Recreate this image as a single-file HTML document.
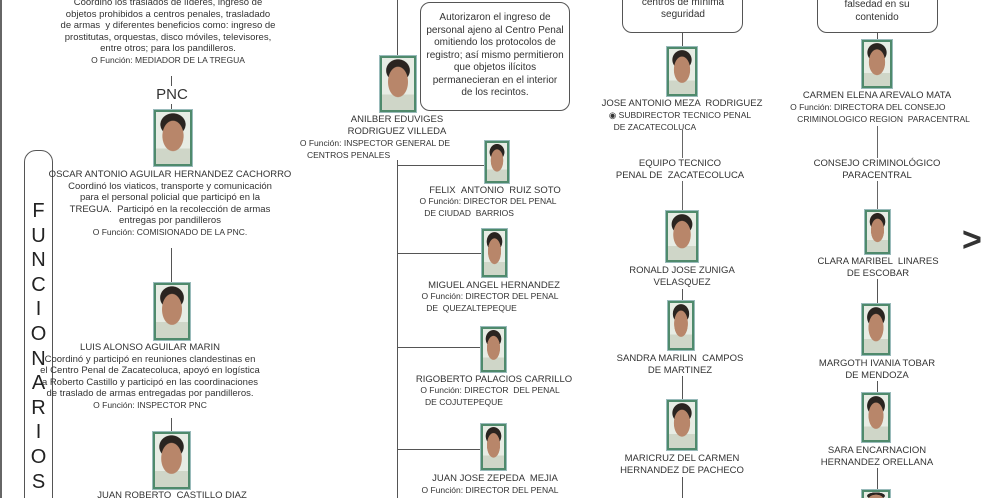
<!DOCTYPE html>
<html style="overflow:hidden;height:498px"><head><meta charset="utf-8"><style>
body{margin:0;width:995px;height:498px;overflow:hidden;background:#fff;position:relative;font-family:"Liberation Sans",sans-serif;color:#333}
.t{position:absolute;text-align:center;font-size:9.5px;line-height:11.5px;white-space:nowrap;transform:translateX(-50%)}
.f{font-size:8.5px}
.p{position:absolute;box-sizing:border-box;border:2px solid #4f8a6c;background:radial-gradient(ellipse 32% 30% at 50% 46%,#b8866a 0 95%,transparent 100%),radial-gradient(ellipse 38% 22% at 50% 24%,#2a2420 0 95%,transparent 100%),linear-gradient(#e7ece4 70%,#cfd6c8 70%);box-shadow:0 0 0 1px #9bb}
.v{position:absolute;width:1px;background:#555}
.h{position:absolute;height:1px;background:#555}
.b{position:absolute;border:1.5px solid #555;border-radius:10px;background:#fff;box-sizing:border-box}
</style></head><body>
<div style="position:absolute;left:0;top:0;width:2px;height:498px;background:#666"></div>
<!-- left column -->
<div class="b" style="left:24px;top:150px;width:29px;height:360px;border-radius:12px;background:transparent"></div>
<div style="position:absolute;left:25px;top:199px;width:27px;text-align:center;font-size:20px;line-height:24.6px;color:#222">F<br>U<br>N<br>C<br>I<br>O<br>N<br>A<br>R<br>I<br>O<br>S</div>
<div class="t" style="left:168px;top:-3px">Coordinó los traslados de líderes, ingreso de<br>objetos prohibidos a centros penales, trasladado<br>de armas &nbsp;y diferentes beneficios como: ingreso de<br>prostitutas, orquestas, disco móviles, televisores,<br>entre otros; para los pandilleros.<br><span class="f">O Función: MEDIADOR DE LA TREGUA</span></div>
<div class="v" style="left:171px;top:76px;height:10px"></div>
<div class="t" style="left:172px;top:86px;font-size:15px;line-height:18px">PNC</div>
<div class="v" style="left:171px;top:104px;height:6px"></div>
<div class="p" style="left:154px;top:110px;width:38px;height:56px"></div>
<div class="t" style="left:170px;top:169px">OSCAR ANTONIO AGUILAR HERNANDEZ CACHORRO<br>Coordinó los viaticos, transporte y comunicación<br>para el personal policial que participó en la<br>TREGUA. &nbsp;Participó en la recolección de armas<br>entregas por pandilleros<br><span class="f">O Función: COMISIONADO DE LA PNC.</span></div>
<div class="v" style="left:171px;top:248px;height:35px"></div>
<div class="p" style="left:154px;top:283px;width:36px;height:57px"></div>
<div class="t" style="left:150px;top:342px">LUIS ALONSO AGUILAR MARIN<br>Coordinó y participó en reuniones clandestinas en<br>el Centro Penal de Zacatecoluca, apoyó en logística<br>a Roberto Castillo y participó en las coordinaciones<br>de traslado de armas entregadas por pandilleros.<br><span class="f">O Función: INSPECTOR PNC</span></div>
<div class="v" style="left:171px;top:418px;height:14px"></div>
<div class="p" style="left:153px;top:432px;width:37px;height:57px"></div>
<div class="t" style="left:172px;top:490px">JUAN ROBERTO &nbsp;CASTILLO DIAZ</div>
<!-- middle -->
<div class="v" style="left:397px;top:0;height:56px"></div>
<div class="v" style="left:397px;top:160px;height:338px"></div>
<div class="h" style="left:397px;top:165px;width:88px"></div>
<div class="h" style="left:397px;top:253px;width:85px"></div>
<div class="h" style="left:397px;top:347px;width:84px"></div>
<div class="h" style="left:397px;top:449px;width:84px"></div>
<div class="b" style="left:420px;top:2px;width:150px;height:109px"></div>
<div class="t" style="left:495px;top:12px;font-size:10px;line-height:12.5px">Autorizaron el ingreso de<br>personal ajeno al Centro Penal<br>omitiendo los protocolos de<br>registro; así mismo permitieron<br>que objetos ilícitos<br>permanecieran en el interior<br>de los recintos.</div>
<div class="p" style="left:380px;top:56px;width:36px;height:56px"></div>
<div class="t" style="left:397px;top:114px">ANILBER EDUVIGES<br>RODRIGUEZ VILLEDA</div>
<div class="t f" style="left:375px;top:138px;text-align:left">O Función: INSPECTOR GENERAL DE<br>&nbsp;&nbsp;&nbsp;CENTROS PENALES</div>
<div class="p" style="left:485px;top:141px;width:24px;height:42px"></div>
<div class="t" style="left:495px;top:185px">FELIX &nbsp;ANTONIO &nbsp;RUIZ SOTO</div>
<div class="t f" style="left:488px;top:196px;text-align:left">O Función: DIRECTOR DEL PENAL<br>&nbsp;&nbsp;DE CIUDAD &nbsp;BARRIOS</div>
<div class="p" style="left:482px;top:229px;width:25px;height:48px"></div>
<div class="t" style="left:494px;top:280px">MIGUEL ANGEL HERNANDEZ</div>
<div class="t f" style="left:490px;top:291px;text-align:left">O Función: DIRECTOR DEL PENAL<br>&nbsp;&nbsp;DE &nbsp;QUEZALTEPEQUE</div>
<div class="p" style="left:481px;top:327px;width:25px;height:45px"></div>
<div class="t" style="left:494px;top:374px">RIGOBERTO PALACIOS CARRILLO</div>
<div class="t f" style="left:490px;top:385px;text-align:left">O Función: DIRECTOR &nbsp;DEL PENAL<br>&nbsp;&nbsp;DE COJUTEPEQUE</div>
<div class="p" style="left:481px;top:424px;width:25px;height:46px"></div>
<div class="t" style="left:495px;top:473px">JUAN JOSE ZEPEDA &nbsp;MEJIA</div>
<div class="t f" style="left:490px;top:485px;text-align:left">O Función: DIRECTOR DEL PENAL</div>
<!-- right col 1 -->
<div class="b" style="left:622px;top:-12px;width:121px;height:45px"></div>
<div class="t" style="left:683px;top:-3px;font-size:10px;line-height:12px">centros de mínima<br>seguridad</div>
<div class="v" style="left:682px;top:33px;height:14px"></div>
<div class="p" style="left:667px;top:47px;width:30px;height:49px"></div>
<div class="t" style="left:682px;top:98px">JOSE ANTONIO MEZA &nbsp;RODRIGUEZ</div>
<div class="t f" style="left:680px;top:110px;text-align:left">&#9673; SUBDIRECTOR TECNICO PENAL<br>&nbsp;&nbsp;DE ZACATECOLUCA</div>
<div class="v" style="left:682px;top:130px;height:81px;background:#666"></div>
<div class="t" style="left:680px;top:158px;background:#fff;padding:0 2px">EQUIPO TECNICO<br>PENAL DE &nbsp;ZACATECOLUCA</div>
<div class="p" style="left:666px;top:211px;width:32px;height:51px"></div>
<div class="t" style="left:682px;top:265px">RONALD JOSE ZUNIGA<br>VELASQUEZ</div>
<div class="v" style="left:682px;top:289px;height:12px"></div>
<div class="p" style="left:668px;top:301px;width:26px;height:49px"></div>
<div class="t" style="left:680px;top:353px">SANDRA MARILIN &nbsp;CAMPOS<br>DE MARTINEZ</div>
<div class="v" style="left:682px;top:376px;height:24px"></div>
<div class="p" style="left:667px;top:400px;width:30px;height:50px"></div>
<div class="t" style="left:682px;top:453px">MARICRUZ DEL CARMEN<br>HERNANDEZ DE PACHECO</div>
<div class="v" style="left:682px;top:477px;height:21px"></div>
<!-- right col 2 -->
<div class="b" style="left:817px;top:-12px;width:121px;height:45px"></div>
<div class="t" style="left:877px;top:-1px;font-size:10px;line-height:12.5px">falsedad en su<br>contenido</div>
<div class="v" style="left:877px;top:33px;height:7px"></div>
<div class="p" style="left:862px;top:40px;width:30px;height:48px"></div>
<div class="t" style="left:877px;top:90px">CARMEN ELENA AREVALO MATA</div>
<div class="t f" style="left:880px;top:102px;text-align:left">O Función: DIRECTORA DEL CONSEJO<br>&nbsp;&nbsp;&nbsp;CRIMINOLOGICO REGION &nbsp;PARACENTRAL</div>
<div class="v" style="left:877px;top:126px;height:84px;background:#666"></div>
<div class="t" style="left:877px;top:158px;background:#fff;padding:0 2px">CONSEJO CRIMINOLÓGICO<br>PARACENTRAL</div>
<div class="p" style="left:865px;top:210px;width:25px;height:44px"></div>
<div class="t" style="left:878px;top:256px">CLARA MARIBEL &nbsp;LINARES<br>DE ESCOBAR</div>
<div class="v" style="left:877px;top:279px;height:25px"></div>
<div class="p" style="left:862px;top:304px;width:28px;height:51px"></div>
<div class="t" style="left:877px;top:358px">MARGOTH IVANIA TOBAR<br>DE MENDOZA</div>
<div class="v" style="left:877px;top:381px;height:12px"></div>
<div class="p" style="left:862px;top:393px;width:28px;height:49px"></div>
<div class="t" style="left:877px;top:445px">SARA ENCARNACION<br>HERNANDEZ ORELLANA</div>
<div class="v" style="left:877px;top:468px;height:22px"></div>
<div class="p" style="left:862px;top:490px;width:28px;height:20px"></div>
<div style="position:absolute;left:962px;top:222px;font-size:34px;font-weight:bold;color:#333;line-height:36px">&gt;</div>
</body></html>
